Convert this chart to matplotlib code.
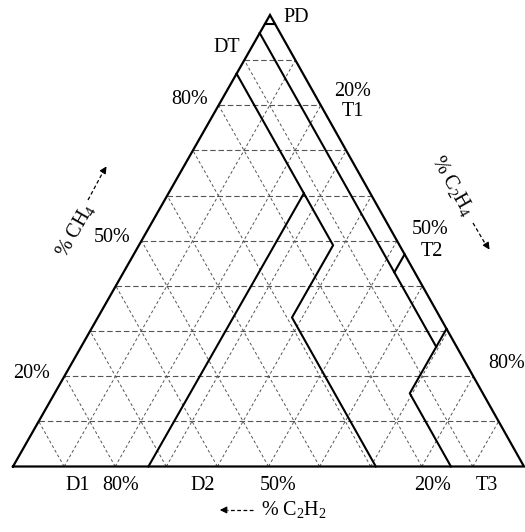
import matplotlib.pyplot as plt
import numpy as np

plt.rcParams['font.family'] = ['Liberation Serif', 'DejaVu Serif']
plt.rcParams['mathtext.fontset'] = 'custom'
plt.rcParams['mathtext.rm'] = 'Liberation Serif'
plt.rcParams['mathtext.it'] = 'Liberation Serif:italic'

# ternary points are (C2H2, C2H4, CH4) in %
grid_levels = [10, 20, 30, 40, 50, 60, 70, 80, 90]

pd_line = [(2, 0, 98), (0, 2, 98)]
c2h2_4_line = [(4, 0, 96), (4, 69.5, 26.5)]
t2_tick = [(0, 53, 47), (4, 53, 43)]
t3_line = [(0, 69.5, 30.5), (14.3, 69.5, 16.2), (14.3, 85.7, 0)]
d1_line = [(13, 0, 87), (13, 26.5, 60.5), (73.5, 26.5, 0)]
d2_line = [(13, 26.5, 60.5), (13, 38, 49), (29, 38, 33), (29, 71, 0)]
zone_lines = [pd_line, c2h2_4_line, t2_tick, t3_line, d1_line, d2_line]

# triangle corners in pixels: C2H2 (bottom left), C2H4 (bottom right), CH4 (top)
BL = np.array([13.0, 466.5])
BR = np.array([524.0, 466.5])
TOP = np.array([270.0, 15.0])


def to_xy(pts):
    pts = np.array(pts, dtype=float)
    pts = pts / pts.sum(axis=1, keepdims=True)
    xy = pts[:, [0]] * BL + pts[:, [1]] * BR + pts[:, [2]] * TOP
    return xy[:, 0], xy[:, 1]


fig = plt.figure(figsize=(5.25, 5.32), dpi=100)
ax = fig.add_axes([0, 0, 1, 1])
ax.set_xlim(0, 525)
ax.set_ylim(532, 0)
ax.axis('off')

grid_col = '#555555'
for g in grid_levels:
    # constant CH4 (horizontal)
    x, y = to_xy([(100 - g, 0, g), (0, 100 - g, g)])
    ax.plot(x, y, color=grid_col, lw=0.8, dashes=(5, 2.5))
    # constant C2H2
    x, y = to_xy([(g, 100 - g, 0), (g, 0, 100 - g)])
    ax.plot(x, y, color=grid_col, lw=0.7, dashes=(3, 2.5))
    # constant C2H4
    x, y = to_xy([(100 - g, g, 0), (0, g, 100 - g)])
    ax.plot(x, y, color=grid_col, lw=0.7, dashes=(3, 2.5))

# outline
x, y = to_xy([(100, 0, 0), (0, 100, 0), (0, 0, 100), (100, 0, 0)])
ax.plot(x, y, color='black', lw=1.6, solid_joinstyle='miter')

for line in zone_lines:
    x, y = to_xy(line)
    ax.plot(x, y, color='black', lw=1.5)

fs = 14.5
ax.text(283, 18, 'PD', fontsize=fs, ha='left', va='center')
ax.text(227, 47, 'DT', fontsize=fs, ha='center', va='center')

# left side ticks
ax.text(190, 100, '80%', fontsize=fs, ha='center', va='center')
ax.text(112, 238, '50%', fontsize=fs, ha='center', va='center')
ax.text(32, 373, '20%', fontsize=fs, ha='center', va='center')

# right side ticks
ax.text(353, 92, '20%', fontsize=fs, ha='center', va='center')
ax.text(353, 112, 'T1', fontsize=fs, ha='center', va='center')
ax.text(430, 230, '50%', fontsize=fs, ha='center', va='center')
ax.text(432, 252, 'T2', fontsize=fs, ha='center', va='center')
ax.text(507, 363, '80%', fontsize=fs, ha='center', va='center')

# bottom ticks
for lab, xp in [('D1', 78), ('80%', 121), ('D2', 203), ('50%', 278), ('20%', 433), ('T3', 487)]:
    ax.text(xp, 485, lab, fontsize=fs, ha='center', va='center')

ang = np.degrees(np.arctan2(BL[1] - TOP[1], TOP[0] - BL[0]))

# axis titles with dashed arrows
ax.text(75, 230, '% CH$_4$', fontsize=14.5, rotation=ang, rotation_mode='anchor',
        ha='center', va='center')
ax.plot([88, 103], [200, 172], color='black', lw=0.9, dashes=(3, 2))
ax.annotate('', xy=(108, 164), xytext=(103, 172),
            arrowprops=dict(arrowstyle='-|>', color='black', lw=0.9, mutation_scale=10))

ax.text(453, 186, '% C$_2$H$_4$', fontsize=14.5, rotation=-ang, rotation_mode='anchor',
        ha='center', va='center')
ax.plot([473, 486], [223, 245], color='black', lw=0.9, dashes=(3, 2))
ax.annotate('', xy=(491, 252), xytext=(486, 244),
            arrowprops=dict(arrowstyle='-|>', color='black', lw=0.9, mutation_scale=10))

ax.text(294, 509, '% C$_2$H$_2$', fontsize=14.5, ha='center', va='center')
ax.plot([253, 227], [510, 510], color='black', lw=0.9, dashes=(3, 2))
ax.annotate('', xy=(217, 510), xytext=(227, 510),
            arrowprops=dict(arrowstyle='-|>', color='black', lw=0.9, mutation_scale=10))

fig.savefig('out.png', dpi=100)
